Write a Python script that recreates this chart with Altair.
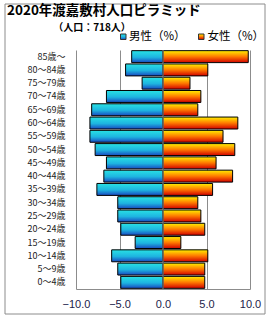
import altair as alt
import pandas as pd

ages = ["85歳～", "80～84歳", "75～79歳", "70～74歳", "65～69歳", "60～64歳",
        "55～59歳", "50～54歳", "45～49歳", "40～44歳", "35～39歳", "30～34歳",
        "25～29歳", "20～24歳", "15～19歳", "10～14歳", "5～9歳", "0～4歳"]
male = [3.6, 4.3, 2.4, 6.5, 8.2, 8.4, 8.4, 7.8, 6.5, 6.8, 7.6, 5.2,
        5.2, 4.85, 3.2, 5.9, 5.2, 4.85]
female = [9.8, 5.15, 3.1, 4.35, 4.0, 8.6, 6.9, 8.25, 6.1, 8.0, 5.7, 4.0,
          4.35, 4.8, 2.05, 5.15, 4.8, 4.8]
x_ticks = [-10, -5, 0, 5, 10]

df = pd.DataFrame({
    "age": ages * 2,
    "sex": ["男性"] * len(ages) + ["女性"] * len(ages),
    "value": [-v for v in male] + female,
})

male_grad = alt.Gradient(gradient="linear", x1=0, x2=0, y1=0, y2=1, stops=[
    alt.GradientStop(offset=0, color="#28e2e4"),
    alt.GradientStop(offset=0.55, color="#1eb4e0"),
    alt.GradientStop(offset=1, color="#1848c0")])
female_grad = alt.Gradient(gradient="linear", x1=0, x2=0, y1=0, y2=1, stops=[
    alt.GradientStop(offset=0, color="#fff000"),
    alt.GradientStop(offset=0.5, color="#ff7a00"),
    alt.GradientStop(offset=1, color="#d00000")])

W, H = 174, 239
xscale = alt.Scale(domain=[-10, 10], nice=False, zero=False)
yscale = alt.Scale(domain=ages, paddingInner=0.1, paddingOuter=0.05)

xenc = alt.X("value:Q", scale=xscale, title=None,
             axis=alt.Axis(values=x_ticks, format=".1f", grid=True, gridColor="#8c8c8c",
                           gridWidth=1, ticks=False, domain=True, domainColor="#8c8c8c",
                           labelFont="Liberation Sans", labelFontSize=11,
                           labelFlush=False, labelOverlap=False,
                           labelColor="#22224a", labelPadding=9))
yenc = alt.Y("age:N", scale=yscale, sort=ages, title=None,
             axis=alt.Axis(ticks=False, domain=False, labelFont="Noto Sans CJK JP",
                           labelFontSize=9, labelColor="#222222", labelPadding=11))

base = alt.Chart(df).encode(x=xenc, y=yenc)
male_bars = base.transform_filter(alt.datum.sex == "男性").mark_bar(
    fill=male_grad, stroke="black", strokeWidth=1)
female_bars = base.transform_filter(alt.datum.sex == "女性").mark_bar(
    fill=female_grad, stroke="black", strokeWidth=1)

zero_rule = alt.Chart(pd.DataFrame({"v": [0]})).mark_rule(
    color="#8c8c8c", strokeWidth=1).encode(x=alt.X("v:Q", scale=xscale))

one = pd.DataFrame({"a": [0]})

def txt(t, x, y, size, bold=False, align="left"):
    return alt.Chart(one).mark_text(
        text=t, align=align, baseline="middle", fontSize=size,
        fontWeight="bold" if bold else "normal", font="Noto Sans CJK JP",
        color="black").encode(x=alt.value(x), y=alt.value(y))

def box(x, x2, y, y2, fill, stroke="#333333"):
    return alt.Chart(one).mark_rect(fill=fill, stroke=stroke, strokeWidth=1).encode(
        x=alt.value(x), x2=alt.value(x2), y=alt.value(y), y2=alt.value(y2))

border = alt.Chart(one).mark_rect(fill=None, stroke="#8c8c8c", strokeWidth=1).encode(
    x=alt.value(-71), x2=alt.value(189), y=alt.value(-46), y2=alt.value(264))

title = txt("2020年渡嘉敷村人口ピラミッド", -69, -39, 13.5, bold=True)
subtitle = txt("（人口：718人）", 16, -22.5, 10, bold=True, align="center")
leg_m_box = box(44.5, 50, -16, -10.5, male_grad)
leg_m_txt = txt("男性（%）", 53, -13, 11.5)
leg_f_box = box(122.5, 128, -16, -10.5, female_grad)
leg_f_txt = txt("女性（%）", 131.5, -13, 11.5)

chart = alt.layer(
    border, male_bars, female_bars, zero_rule,
    title, subtitle, leg_m_box, leg_m_txt, leg_f_box, leg_f_txt
).properties(
    width=W, height=H,
    autosize=alt.AutoSizeParams(type="none"),
    padding={"left": 76, "top": 50, "right": 20, "bottom": 31},
    background="white",
).configure_view(stroke=None)

chart.save("out.html", embed_options={"renderer": "svg", "actions": False})
